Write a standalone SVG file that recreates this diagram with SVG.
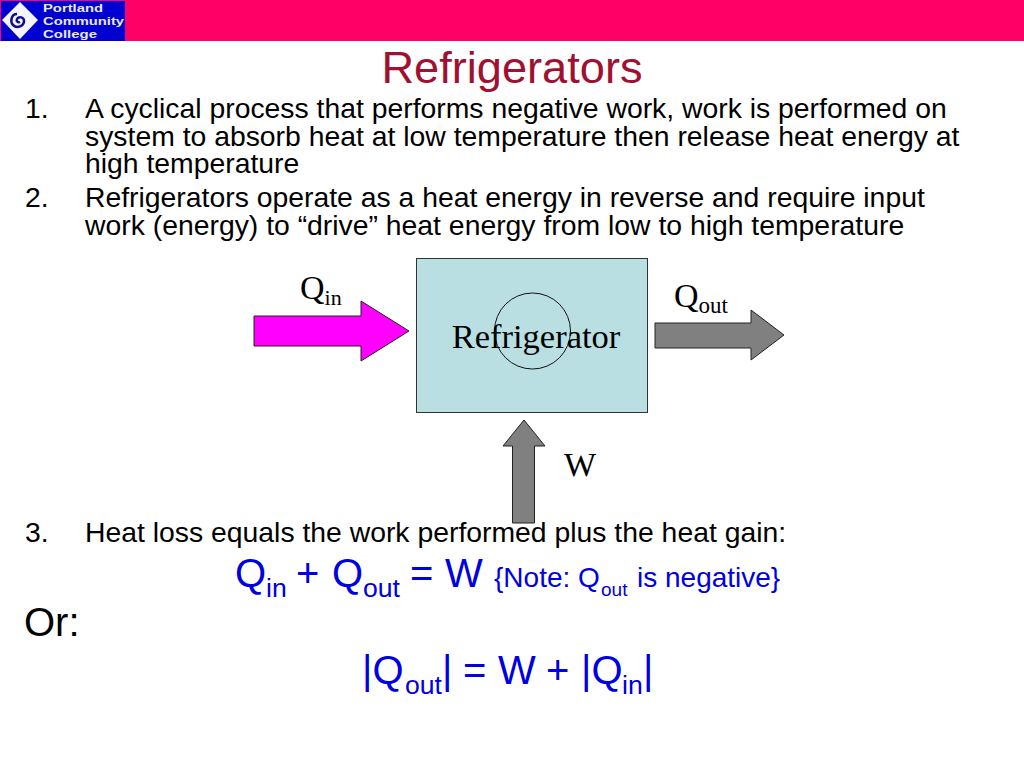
<svg xmlns="http://www.w3.org/2000/svg" width="1024" height="768" viewBox="0 0 1024 768">
<style>
.b{font-family:"Liberation Sans",Arial,sans-serif;font-size:28.35px;fill:#000}
.s{font-family:"Liberation Serif","Times New Roman",serif;fill:#000}
.e{font-family:"Liberation Sans",Arial,sans-serif;fill:#0000e0;font-size:40px}
.u{font-size:26.6px}
.n{font-size:28px}
.m{font-size:19px}
.a{stroke:#222;stroke-width:1}
.l{font-family:"Liberation Sans",Arial,sans-serif;font-weight:bold;font-size:11.5px;fill:#e8e8f8}
</style>
<rect width="1024" height="768" fill="#fff"/>
<g id="header">
<rect x="0" y="0" width="1024" height="41" fill="#ff0066"/>
<rect x="1" y="1" width="124" height="40" fill="#0000d0"/>
<polygon points="20,2 38,20 20,39 2,20" fill="#f4f4ff"/>
<path d="M17,14 C11,14 10,22 13,25 C17,29 24,26 24,21 C24,17 19,16 17,19 C16,21 18,23 20,22" fill="none" stroke="#101080" stroke-width="2.500"/>
<text class="l" x="43" y="11.500" textLength="60" lengthAdjust="spacingAndGlyphs">Portland</text>
<text class="l" x="43" y="25" textLength="81" lengthAdjust="spacingAndGlyphs">Community</text>
<text class="l" x="43" y="37.500" textLength="54" lengthAdjust="spacingAndGlyphs">College</text>
</g>
<text id="title" x="512" y="83" text-anchor="middle" font-family="'Liberation Sans',Arial,sans-serif" font-size="45.200" fill="#a01030">Refrigerators</text>
<g id="body">
<text class="b" x="25" y="118">1.</text>
<text class="b" x="85" y="118">A cyclical process that performs negative work, work is performed on</text>
<text class="b" x="85" y="146">system to absorb heat at low temperature then release heat energy at</text>
<text class="b" x="85" y="173">high temperature</text>
<text class="b" x="25" y="207">2.</text>
<text class="b" x="85" y="207">Refrigerators operate as a heat energy in reverse and require input</text>
<text class="b" x="85" y="235">work (energy) to “drive” heat energy from low to high temperature</text>
<text class="b" x="25" y="542">3.</text>
<text class="b" x="85" y="542">Heat loss equals the work performed plus the heat gain:</text>
<text x="24" y="636" font-family="'Liberation Sans',Arial,sans-serif" font-size="40" fill="#000">Or:</text>
</g>
<g id="refrigerator">
<rect x="416.500" y="258.500" width="231" height="154" fill="#b9dfe3" stroke="#333"/>
<circle cx="532.500" cy="331" r="38" fill="none" stroke="#111"/>
<text class="s" x="536" y="348" text-anchor="middle" font-size="34.500">Refrigerator</text>
</g>
<g id="connectors">
<polygon class="a" points="254,316 361,316 361,301 409,331 361,361 361,346 254,346" fill="#ff00ff"/>
<polygon class="a" points="655,323 751,323 751,310 784,335 751,360 751,348 655,348" fill="#808080"/>
<polygon class="a" points="512.500,523 512.500,446 503,446 524,420 545,446 534.500,446 534.500,523" fill="#808080"/>
</g>
<g id="labels">
<text class="s" x="300" y="299" font-size="34">Q<tspan font-size="22" dy="6">in</tspan></text>
<text class="s" x="674" y="307" font-size="34">Q<tspan font-size="23" dy="6">out</tspan></text>
<text class="s" x="564" y="476" font-size="34">W</text>
</g>
<g id="equations">
<text class="e" x="235" y="587">Q</text><text class="e u" x="266" y="597">in</text>
<text class="e" x="296" y="587">+</text>
<text class="e" x="332" y="587">Q</text><text class="e u" x="363" y="597">out</text>
<text class="e" x="410" y="587">=</text>
<text class="e" x="445" y="587">W</text>
<text class="e n" x="494" y="587">{Note: Q</text><text class="e m" x="601" y="596">out</text>
<text class="e n" x="637" y="587">is negative}</text>
<text class="e" x="362" y="684">|Q</text><text class="e u" x="405" y="694">out</text>
<text class="e" x="442" y="684">|</text>
<text class="e" x="463" y="684">=</text>
<text class="e" x="498" y="684">W</text>
<text class="e" x="546" y="684">+</text>
<text class="e" x="581" y="684">|Q</text><text class="e u" x="622" y="694">in</text>
<text class="e" x="643" y="684">|</text>
</g>
</svg>
